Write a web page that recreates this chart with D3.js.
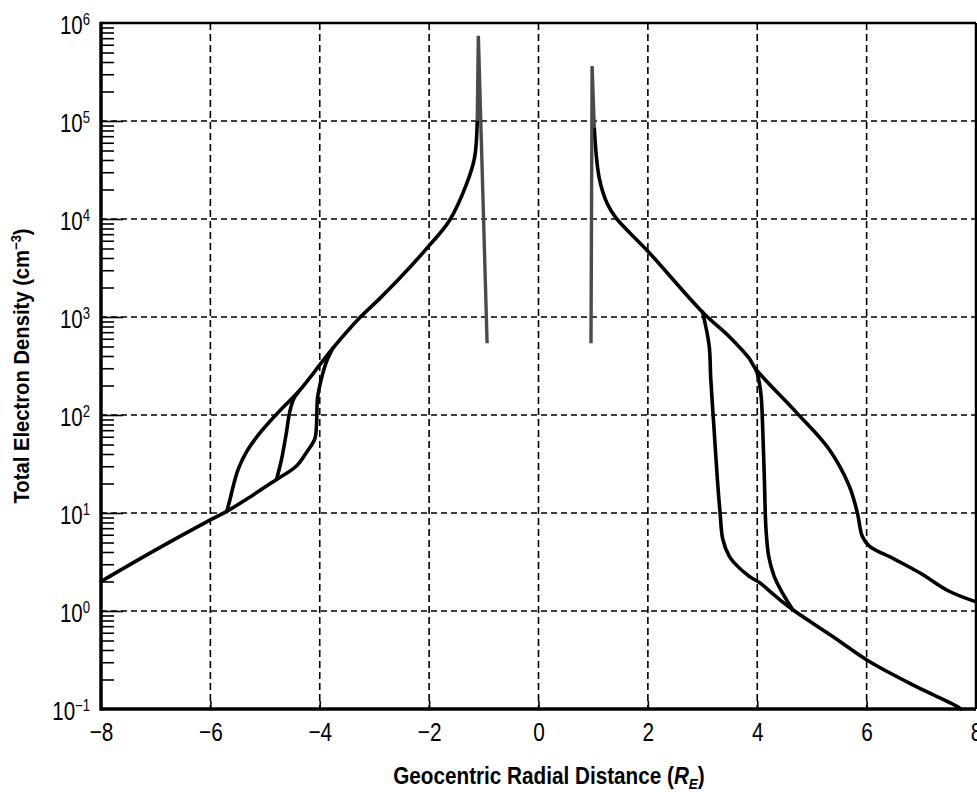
<!DOCTYPE html>
<html>
<head>
<meta charset="utf-8">
<script src="https://cdn.jsdelivr.net/npm/d3@7"></script>
<style>
    body { margin: 0; background: #fff; }
    svg { display: block; }
    .lbl { font-family: "Liberation Sans", Arial, sans-serif; font-size: 25px; fill: #000; }
    .ttl { font-family: "Liberation Sans", Arial, sans-serif; font-size: 23px; font-weight: bold; fill: #000; }
</style>
</head>
<body>
<div id="chart"></div>
<script>

// * * * data (x in Earth radii, density in cm^-3) * * *
const xTicks = [-8, -6, -4, -2, 0, 2, 4, 6, 8];
const xGrid = [-6, -4, -2, 0, 2, 4, 6];
const yExponents = [-1, 0, 1, 2, 3, 4, 5, 6];
const yGridExponents = [0, 1, 2, 3, 4, 5];

// left (dusk) side
const leftTrough = [[-8, 2.0], [-7, 4.2], [-6, 8.5], [-5.7, 10.4], [-5.34, 13.8], [-4.79, 22], [-4.43, 30],
    [-4.24, 41.7], [-4.09, 57], [-4.06, 78], [-4.04, 150], [-3.97, 234], [-3.88, 346], [-3.76, 480]];
const leftMid = [[-4.79, 22], [-4.70, 35], [-4.61, 66], [-4.55, 107], [-4.47, 148], [-4.40, 168]];
const leftPlasmasphere = [[-5.7, 10.4], [-5.64, 13.8], [-5.58, 19], [-5.49, 28], [-5.34, 42], [-5.09, 66],
    [-4.79, 102], [-4.37, 178], [-4.0, 324], [-3.76, 480], [-3.27, 980], [-2.9, 1550], [-2.54, 2480],
    [-1.98, 5500], [-1.63, 9600], [-1.32, 22400], [-1.17, 42000], [-1.12, 100000]];
const leftSpike = [[-1.12, 100000], [-1.10, 740000], [-0.94, 540]];

// right (dawn) side
const rightSpike = [[0.96, 540], [0.98, 363000], [1.02, 85000]];
const rightPlasmasphere = [[1.02, 85000], [1.11, 26300], [1.26, 14200], [1.42, 10200], [2.03, 4500],
    [3.0, 1120], [3.49, 630], [3.85, 380], [3.97, 296], [4.71, 107], [5.31, 45], [5.68, 19], [5.83, 10.1],
    [5.92, 5.8], [6.05, 4.6], [6.5, 3.4], [7.0, 2.4], [7.5, 1.6], [8.0, 1.24]];
const rightTrough = [[3.0, 1120], [3.12, 513], [3.15, 234], [3.21, 72], [3.27, 22.4], [3.32, 10.1],
    [3.37, 5.4], [3.49, 3.6], [3.58, 3.1], [3.85, 2.26], [4.04, 1.95], [4.34, 1.41], [4.65, 1.03],
    [5.38, 0.55], [6.05, 0.305], [6.9, 0.17], [7.66, 0.106], [7.72, 0.1]];
const rightMid = [[3.97, 296], [4.01, 254], [4.07, 158], [4.10, 72], [4.13, 22.4], [4.16, 6.8],
    [4.21, 3.6], [4.31, 2.26], [4.46, 1.53], [4.65, 1.03]];

const curves = [leftTrough, leftMid, leftPlasmasphere, rightPlasmasphere, rightTrough, rightMid];
const spikes = [leftSpike, rightSpike];

// * * * layout * * *
const margin = {top: 23, right: 1, bottom: 83, left: 101};
const width = 977 - margin.left - margin.right;
const height = 792 - margin.top - margin.bottom;

// narrow look like the condensed face of the original
const squeeze = 0.82;

const svg = d3.select("#chart").append("svg")
    .attr("width", 977)
    .attr("height", 792);

const g = svg.append("g")
    .attr("transform", `translate(${margin.left}, ${margin.top})`);

const x = d3.scaleLinear().domain([-8, 8]).range([0, width]);
const y = d3.scaleLog().domain([0.1, 1e6]).range([height, 0]);

// grid
g.selectAll(".hgrid").data(yGridExponents).enter().append("line")
    .attr("class", "hgrid")
    .attr("x1", 0).attr("x2", width)
    .attr("y1", d => y(Math.pow(10, d))).attr("y2", d => y(Math.pow(10, d)))
    .attr("stroke", "#000").attr("stroke-width", 1.4)
    .attr("stroke-dasharray", "6,4");

g.selectAll(".vgrid").data(xGrid).enter().append("line")
    .attr("class", "vgrid")
    .attr("x1", d => x(d)).attr("x2", d => x(d))
    .attr("y1", 0).attr("y2", height)
    .attr("stroke", "#000").attr("stroke-width", 1.6)
    .attr("stroke-dasharray", "7,4");

// minor y ticks (inward)
let minorVals = [];
yExponents.slice(0, -1).forEach(e => {
    for (let k = 2; k <= 9; k++) minorVals.push(k * Math.pow(10, e));
});

g.append("g")
    .call(d3.axisLeft(y).tickValues(minorVals).tickSize(-13).tickFormat(""))
    .call(a => a.select(".domain").remove())
    .selectAll("line").attr("stroke-width", 1.6);

g.append("g")
    .call(d3.axisLeft(y).tickValues(yGridExponents.map(e => Math.pow(10, e))).tickSize(-22).tickFormat(""))
    .call(a => a.select(".domain").remove())
    .selectAll("line").attr("stroke-width", 1.6);

// x ticks + labels
let xAxis = g.append("g")
    .attr("transform", `translate(0, ${height})`)
    .call(d3.axisBottom(x).tickValues(xTicks).tickSize(-8).tickPadding(14).tickFormat(d3.format("d")));
xAxis.select(".domain").remove();
xAxis.selectAll("line").attr("stroke-width", 1.6);
xAxis.selectAll("text")
    .attr("class", "lbl")
    .attr("font-size", null).attr("font-family", null)
    .style("font-size", "26px")
    .attr("transform", `scale(0.8,1)`);

// y labels 10^n
let yLab = g.selectAll(".ylab").data(yExponents).enter().append("text")
    .attr("class", "lbl")
    .attr("text-anchor", "end")
    .attr("transform", d => `translate(-11, ${y(Math.pow(10, d)) + 11}) scale(${squeeze},1)`);
yLab.append("tspan").text("10");
yLab.append("tspan").attr("dy", -9).style("font-size", "16px")
    .text(d => d < 0 ? "\u2212" + Math.abs(d) : d);

// curves
let line = d3.line()
    .x(d => x(d[0]))
    .y(d => y(d[1]))
    .curve(d3.curveCatmullRom.alpha(0.5));

g.selectAll(".curve").data(curves).enter().append("path")
    .attr("class", "curve")
    .attr("d", line)
    .attr("fill", "none")
    .attr("stroke", "#000")
    .attr("stroke-width", 3.6)
    .attr("stroke-linejoin", "round")
    .attr("stroke-linecap", "round");

let spikeLine = d3.line().x(d => x(d[0])).y(d => y(d[1]));

g.selectAll(".spike").data(spikes).enter().append("path")
    .attr("class", "spike")
    .attr("d", spikeLine)
    .attr("fill", "none")
    .attr("stroke", "#4a4a4a")
    .attr("stroke-width", 3.4)
    .attr("stroke-linejoin", "miter");

// frame
g.append("line").attr("x1", 0).attr("x2", width).attr("y1", 0).attr("y2", 0)
    .attr("stroke", "#000").attr("stroke-width", 2.5);
g.append("line").attr("x1", width).attr("x2", width).attr("y1", 0).attr("y2", height)
    .attr("stroke", "#000").attr("stroke-width", 2.5);
g.append("line").attr("x1", 0).attr("x2", 0).attr("y1", -1.2).attr("y2", height + 1.7)
    .attr("stroke", "#000").attr("stroke-width", 3.5);
g.append("line").attr("x1", 0).attr("x2", width).attr("y1", height).attr("y2", height)
    .attr("stroke", "#000").attr("stroke-width", 3.5);

// axis titles
let xTitle = svg.append("text")
    .attr("class", "ttl")
    .attr("text-anchor", "middle")
    .attr("transform", "translate(549, 784) scale(0.9,1)");
xTitle.append("tspan").text("Geocentric Radial Distance (");
xTitle.append("tspan").style("font-style", "italic").text("R");
xTitle.append("tspan").style("font-style", "italic").style("font-size", "15px").attr("dy", 5).text("E");
xTitle.append("tspan").attr("dy", -5).text(")");

let yTitle = svg.append("text")
    .attr("class", "ttl")
    .style("font-size", "22px")
    .attr("text-anchor", "middle")
    .attr("transform", "translate(29, 366) rotate(-90) scale(0.92,1)");
yTitle.append("tspan").text("Total Electron Density (cm");
yTitle.append("tspan").style("font-size", "14px").attr("dy", -8).text("\u22123");
yTitle.append("tspan").attr("dy", 8).text(")");

</script>
</body>
</html>
